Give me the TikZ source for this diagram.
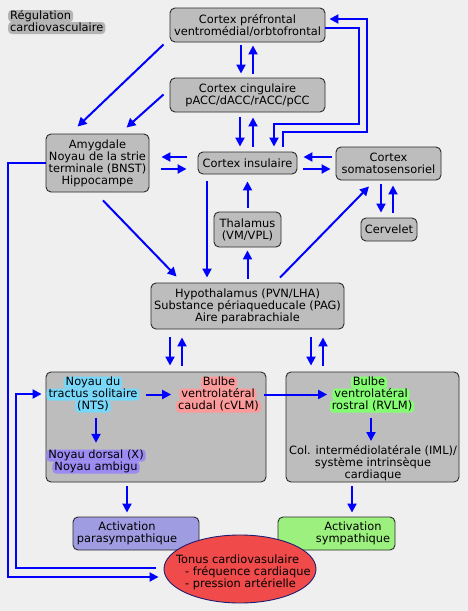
\documentclass[tikz,border=0pt]{standalone}
\usepackage{fontspec}
\setmainfont{DejaVu Sans}
\usetikzlibrary{arrows.meta,shapes.geometric}
\definecolor{bg}{HTML}{EFEFEF}
\definecolor{boxgray}{HTML}{BDBDBD}
\definecolor{edgecol}{HTML}{2A2A2A}
\definecolor{parafill}{HTML}{A09CE2}
\definecolor{sympfill}{HTML}{9CF07E}
\definecolor{tonusred}{HTML}{F04A4A}
\definecolor{navyedge}{HTML}{1E1E6E}
\definecolor{gNTS}{HTML}{78D8FA}
\definecolor{gCV}{HTML}{FF9A9A}
\definecolor{gRV}{HTML}{84FF72}
\definecolor{gDX}{HTML}{9A8AF2}
\definecolor{gTitle}{HTML}{B4B4B4}
\newcommand\txtfont{\fontsize{11.4}{12}\selectfont}
\tikzset{
  lbl/.style={font=\txtfont, align=center, inner sep=0pt},
  hl/.style={font=\txtfont, fill=#1, rounded corners=3.5pt, inner xsep=2pt, inner ysep=0.5pt, text height=8.5pt, text depth=2.5pt},
  box/.style={draw=edgecol, fill=boxgray, rounded corners=5pt, line width=0.9pt, align=center, inner sep=0pt, font=\txtfont},
  arr/.style={draw=blue, line width=2pt, -{Triangle[length=9pt,width=9pt]}},
}
\begin{document}
\begin{tikzpicture}[x=1pt,y=-1pt]
\useasboundingbox (0,0) rectangle (468,611);
\fill[bg] (0,0) rectangle (468,611);

% title
\node[hl=gTitle,anchor=west] (title1) at (8,16) {Régulation};
\node[hl=gTitle,anchor=west] (title2) at (8,28) {cardiovasculaire};

% boxes
\node[box,minimum width=155pt,minimum height=34pt] (pfc) at (247.5,25) {Cortex préfrontal\\ventromédial/orbtofrontal};
\node[box,minimum width=155pt,minimum height=34pt] (cing) at (247.5,95) {Cortex cingulaire\\pACC/dACC/rACC/pCC};
\node[box,minimum width=99pt,minimum height=22pt] (ins) at (247.5,163) {Cortex insulaire};
\node[box,minimum width=103pt,minimum height=58pt] (amyg) at (97.5,163) {Amygdale\\Noyau de la strie\\terminale (BNST)\\Hippocampe};
\node[box,minimum width=105pt,minimum height=33pt] (soma) at (388.5,163.5) {Cortex\\somatosensoriel};
\node[box,minimum width=67pt,minimum height=35pt] (thal) at (247.5,229.5) {Thalamus\\(VM/VPL)};
\node[box,minimum width=56pt,minimum height=23pt] (cerv) at (389,229.5) {Cervelet};
\node[box,minimum width=193pt,minimum height=46pt] (hyp) at (247.5,306) {Hypothalamus (PVN/LHA)\\Substance périaqueducale (PAG)\\Aire parabrachiale};
\node[box,minimum width=220pt,minimum height=110pt] (lbox) at (156,427) {};
\node[box,minimum width=173pt,minimum height=110pt] (rbox) at (372.5,427) {};
\node[box,fill=parafill,minimum width=126pt,minimum height=33pt] (para) at (136,533.5) {};
\node[lbl] (paratxt) at (127,533.5) {Activation\\parasympathique};
\node[box,fill=sympfill,minimum width=117pt,minimum height=33pt] (symp) at (336.5,533.5) {};
\node[lbl] (symptxt) at (353,533.5) {Activation\\sympathique};
\node[ellipse,draw=navyedge,line width=0.9pt,fill=tonusred,minimum width=152pt,minimum height=68pt,inner sep=0pt] (tonus) at (240,569) {};
\node[lbl,anchor=west,align=left] (tonustxt) at (176,572.5) {Tonus cardiovasulaire\\\hspace*{9pt}- fréquence cardiaque\\\hspace*{9pt}- pression artérielle};

% highlighted labels inside the big boxes
\node[hl=gNTS] (nts1) at (93,382.5) {Noyau du};
\node[hl=gNTS] (nts2) at (93,394.5) {tractus solitaire};
\node[hl=gNTS] (nts3) at (93,406.5) {(NTS)};
\node[hl=gCV] (cvlm1) at (219,382.5) {Bulbe};
\node[hl=gCV] (cvlm2) at (218,394.5) {ventrolatéral};
\node[hl=gCV] (cvlm3) at (218.5,406.5) {caudal (cVLM)};
\node[hl=gDX] (dorsal1) at (96,455.5) {Noyau dorsal (X)};
\node[hl=gDX] (dorsal2) at (96,467.5) {Noyau ambigu};
\node[hl=gRV] (rvlm1) at (369,382.5) {Bulbe};
\node[hl=gRV] (rvlm2) at (371,394.5) {ventrolatéral};
\node[hl=gRV] (rvlm3) at (372,406.5) {rostral (RVLM)};
\node[lbl] (iml) at (373,463) {Col. intermédiolatérale (IML)/\\système intrinsèque\\cardiaque};

% connectors
\draw[arr] ([shift={(-6.5,3)}]pfc.south) -- ([shift={(-6.5,-4)}]cing.north);
\draw[arr] ([shift={(5.5,-4)}]cing.north) -- ([shift={(5.5,3)}]pfc.south);
\draw[arr] ([shift={(-7.5,5)}]cing.south) -- ([shift={(-7.5,-5)}]ins.north);
\draw[arr] ([shift={(5.5,-5)}]ins.north) -- ([shift={(5.5,5)}]cing.south);
\draw[arr] ([shift={(-6,2)}]pfc.south west) -- ([shift={(32,-7)}]amyg.north west);
\draw[arr] ([shift={(-6,-18)}]cing.south west) -- ([shift={(81,-6)}]amyg.north west);
\draw[arr] ([shift={(-11,-6)}]ins.west) -- ([shift={(12,-6)}]amyg.east);
\draw[arr] ([shift={(12,6)}]amyg.east) -- ([shift={(-11,6)}]ins.west);
\draw[arr] ([shift={(-4,-6.5)}]soma.west) -- ([shift={(6,-6)}]ins.east);
\draw[arr] ([shift={(6,6)}]ins.east) -- ([shift={(-5,5.5)}]soma.west);
\draw[arr] ([shift={(35.5,-5)}]ins.north) -- ++(0,-15) -- ++(84,0) |- ([shift={(4,-6)}]pfc.east);
\draw[arr] ([shift={(0,3)}]pfc.east) -- ++(34,0) -- ++(0,96) -| ([shift={(26.5,-5)}]ins.north);
\draw[arr] ([shift={(0,-4)}]thal.north) -- ([shift={(0,7)}]ins.south);
\draw[arr] ([shift={(0,-4)}]hyp.north) -- ([shift={(0,3)}]thal.south);
\draw[arr] ([shift={(-40.5,7)}]ins.south) -- ([shift={(-40.5,-5)}]hyp.north);
\draw[arr] ([shift={(5.5,8)}]amyg.south) -- ([shift={(26,-6)}]hyp.north west);
\draw[arr] ([shift={(32.5,-5)}]hyp.north) -- ([shift={(-19.5,6)}]soma.south);
\draw[arr] ([shift={(-7.5,4)}]soma.south) -- ([shift={(-8,-5)}]cerv.north);
\draw[arr] ([shift={(4,-5)}]cerv.north) -- ([shift={(4.5,5)}]soma.south);
\draw[arr] ([shift={(-77.5,8)}]hyp.south) -- ([shift={(14,-6)}]lbox.north);
\draw[arr] ([shift={(26,-6)}]lbox.north) -- ([shift={(-65.5,8)}]hyp.south);
\draw[arr] ([shift={(63.5,8)}]hyp.south) -- ([shift={(-61.5,-6)}]rbox.north);
\draw[arr] ([shift={(-49.5,-6)}]rbox.north) -- ([shift={(75.5,8)}]hyp.south);
\draw[arr] ([shift={(6,0)}]nts2.east) -- ([shift={(-8,0)}]cvlm2.west);
\draw[arr] ([shift={(7,0)}]cvlm2.east) -- ([shift={(-5,0)}]rvlm2.west);
\draw[arr] ([shift={(-1,5.5)}]rvlm3.south) -- ([shift={(-2,-4)}]iml.north);
\draw[arr] ([shift={(3,5)}]nts3.south) -- ([shift={(0,-6.5)}]dorsal1.north);
\draw[arr] ([shift={(-29,4)}]lbox.south) -- ([shift={(-9,-4)}]para.north);
\draw[arr] ([shift={(-20.5,4)}]rbox.south) -- ([shift={(15.5,-4)}]symp.north);
\draw[arr] (amyg.west) -- ++(-38,0) |- ([shift={(-5,8)}]tonus.west);
\draw[arr] ([shift={(-8,-1)}]tonus.west) -- ++(-140,0) |- ([shift={(-4,-33)}]lbox.west);
\end{tikzpicture}
\end{document}
